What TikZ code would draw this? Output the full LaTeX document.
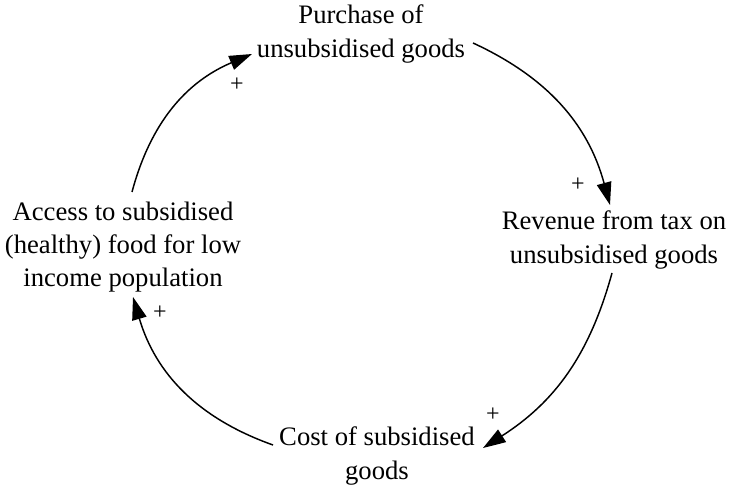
\documentclass[tikz,border=0pt]{standalone}
\usepackage{fontspec}
\setmainfont{Liberation Serif}
\usetikzlibrary{arrows.meta,calc}
\begin{document}
\begin{tikzpicture}[x=0.75pt,y=0.75pt,
  var/.style={align=center,inner sep=0pt,font=\fontsize{20}{25}\selectfont},
  pol/.style={inner sep=0pt,font=\fontsize{18}{18}\selectfont},
  link/.style={line width=1.1pt,-{Triangle[length=17pt,width=11pt]}}]
\useasboundingbox (0,0) rectangle (745,496);
\node[var] (top) at (361,462) {Purchase of\\unsubsidised goods};
\node[var] (right) at (614,256) {Revenue from tax on\\unsubsidised goods};
\node[var] (bottom) at (377,40) {Cost of subsidised\\goods};
\node[var] (left) at (123,249) {Access to subsidised\\(healthy) food for low\\income population};
\draw[link] ($(left.center)+(9,55)$) to[bend left=26] ($(top.center)+(-109,-20)$);
\draw[link] ($(top.center)+(112,-9)$) to[bend left=25] ($(right.center)+(-4,35)$);
\draw[link] ($(right.center)+(-2,-33)$) to[bend left=21] ($(bottom.center)+(106,8)$);
\draw[link] ($(bottom.center)+(-104,11)$) to[bend left=27] ($(left.center)+(10,-50)$);
\node[pol] (p1) at (237,411) {+};
\node[pol] (p2) at (578,311) {+};
\node[pol] (p3) at (493,81) {+};
\node[pol] (p4) at (160,183) {+};
\end{tikzpicture}
\end{document}
